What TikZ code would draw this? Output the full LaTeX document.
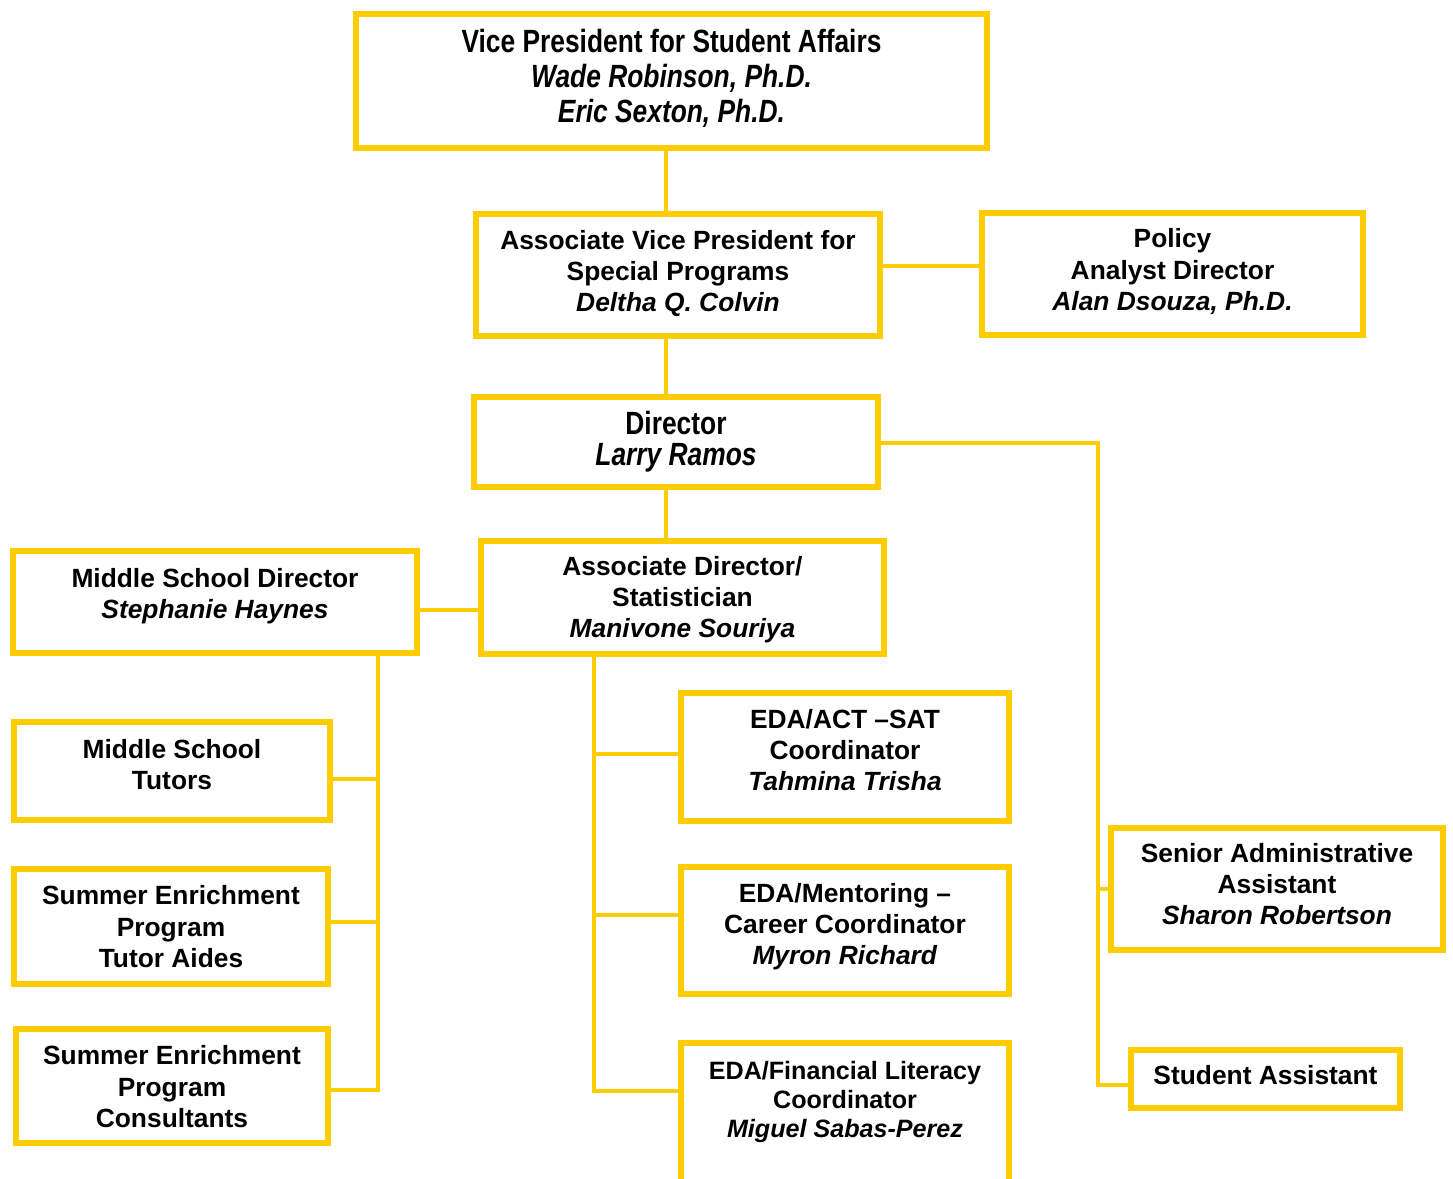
\documentclass[tikz,border=0pt]{standalone}
\usepackage{fontspec}
\setmainfont{Liberation Sans}
\newfontfamily\narrowfont[FakeStretch=0.82]{Liberation Sans}
\definecolor{gold}{HTML}{FFCC00}
\tikzset{
  box/.style={draw=gold, line width=3.4pt, align=center, inner sep=0pt,
    font=\fontsize{15}{17.8}\selectfont\bfseries},
  lift/.style={text height=#1pt, text depth=0pt},
  link/.style={gold, line width=2.8pt},
}
\begin{document}
\begin{tikzpicture}[x=0.02cm, y=-0.02cm]
  \useasboundingbox (0,0) rectangle (1453,1178);
  \node [box, lift=47, minimum width=12.62cm, minimum height=2.68cm,
    font=\narrowfont\fontsize{18.3}{19.8}\selectfont\bfseries] (vp) at (671.5,81)
    {Vice President for Student Affairs\\\textit{Wade Robinson, Ph.D.}\\\textit{Eric Sexton, Ph.D.}};
  \node [box, lift=42, minimum width=8.08cm, minimum height=2.44cm] (avp) at (678,275)
    {Associate Vice President for\\Special Programs\\\textit{Deltha Q. Colvin}};
  \node [box, lift=41.4, minimum width=7.62cm, minimum height=2.44cm] (pol) at (1172.5,274)
    {Policy\\Analyst Director\\\textit{Alan Dsouza, Ph.D.}};
  \node [box, lift=26.7, minimum width=8.08cm, minimum height=1.8cm,
    font=\narrowfont\fontsize{18.3}{17.6}\selectfont\bfseries] (dir) at (676,442)
    {Director\\\textit{Larry Ramos}};
  \node [box, lift=46, minimum width=8.06cm, minimum height=2.26cm] (adir) at (682.5,597.5)
    {Associate Director/\\Statistician\\\textit{Manivone Souriya}};
  \node [box, lift=18.7, minimum width=8.08cm, minimum height=2.04cm] (msd) at (215,602)
    {Middle School Director\\\textit{Stephanie Haynes}};
  \node [box, lift=21, minimum width=6.32cm, minimum height=1.96cm] (mst) at (172,771)
    {Middle School\\Tutors};
  \node [box, lift=46.5, minimum width=6.28cm, minimum height=2.3cm] (sept) at (171,926.5)
    {Summer Enrichment\\Program\\Tutor Aides};
  \node [box, lift=47.1, minimum width=6.24cm, minimum height=2.28cm] (sepc) at (172,1086)
    {Summer Enrichment\\Program\\Consultants};
  \node [box, lift=38.6, minimum width=6.56cm, minimum height=2.56cm] (act) at (845,757)
    {EDA/ACT –SAT\\Coordinator\\\textit{Tahmina Trisha}};
  \node [box, lift=39.2, minimum width=6.56cm, minimum height=2.54cm] (ment) at (845,930.5)
    {EDA/Mentoring –\\Career Coordinator\\\textit{Myron Richard}};
  \node [box, lift=28.3, minimum width=6.56cm, minimum height=2.8cm,
    font=\fontsize{14.3}{16.5}\selectfont\bfseries] (fin) at (845,1113)
    {EDA/Financial Literacy\\Coordinator\\\textit{Miguel Sabas-Perez}};
  \node [box, lift=40.9, minimum width=6.64cm, minimum height=2.44cm] (sra) at (1277,889)
    {Senior Administrative\\Assistant\\\textit{Sharon Robertson}};
  \node [box, lift=6.8, minimum width=5.38cm, minimum height=1.16cm] (sta) at (1265.5,1079)
    {Student Assistant};
  \coordinate (t) at (666,0);
  \coordinate (e) at (1098,0);
  \coordinate (m) at (378,0);
  \coordinate (a) at (594,0);
  \draw [link] (vp.south -| t) -- (avp.north -| t);
  \draw [link] (avp.east |- 0,266) -- (pol.west |- 0,266);
  \draw [link] (avp.south -| t) -- (dir.north -| t);
  \draw [link] (dir.south -| t) -- (adir.north -| t);
  \draw [link] (dir.east |- 0,443) -- (e |- 0,443) -- (e |- 0,1085) -- (sta.west |- 0,1085);
  \draw [link] (e |- sra.west) -- (sra.west);
  \draw [link] (adir.west |- 0,610) -- (msd.east |- 0,610);
  \draw [link] (msd.south -| m) -- (m |- 0,1090) -- (sepc.east |- 0,1090);
  \draw [link] (m |- 0,779) -- (mst.east |- 0,779);
  \draw [link] (m |- 0,922) -- (sept.east |- 0,922);
  \draw [link] (adir.south -| a) -- (a |- 0,1091) -- (fin.west |- 0,1091);
  \draw [link] (a |- 0,754) -- (act.west |- 0,754);
  \draw [link] (a |- 0,915) -- (ment.west |- 0,915);
\end{tikzpicture}
\end{document}
